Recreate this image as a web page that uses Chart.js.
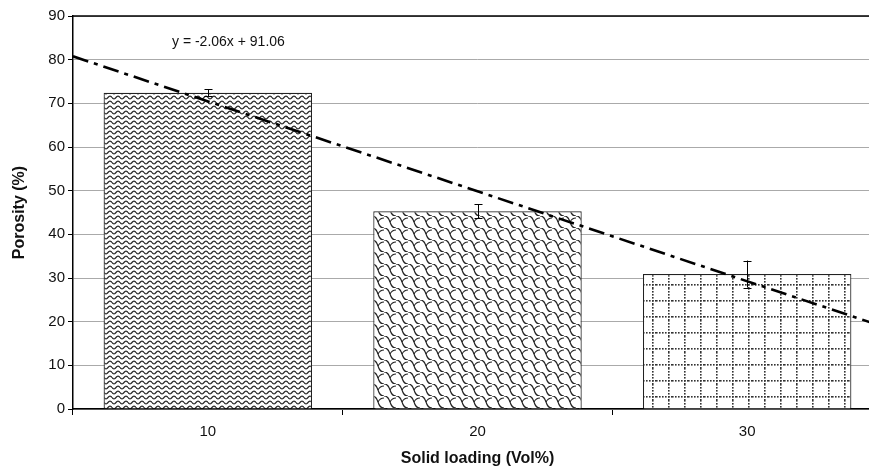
<!DOCTYPE html>
<html lang="en">
<head>
    <meta charset="UTF-8">
    <title>Porosity vs Solid loading</title>
    <script src="https://cdn.jsdelivr.net/npm/chart.js"></script>
    <style>
        html, body {
            margin: 0;
            padding: 0;
            overflow: hidden;
            background: #fff;
        }
        .wrapper {
            width: 882px;
            height: 474px;
        }
    </style>
</head>
<body>
    <div class="wrapper">
        <canvas id="porosityChart"></canvas>
    </div>

    <script>
        // values
        const categories = ['10', '20', '30'];
        const porosity = [72.4, 45.3, 30.9];
        const porosityErr = [0.8, 1.6, 3.1];
        const yTickMax = 90;
        const yTickStep = 10;

        // linear trend line printed on the figure
        const trendSlope = -2.06;
        const trendIntercept = 91.06;
        const trendXRange = [5, 35];
        const trendLabel = 'y = -2.06x + 91.06';

        const FONT = '"Liberation Sans", Arial, sans-serif';

        function makeTile(w, h, draw) {
            const c = document.createElement('canvas');
            c.width = w;
            c.height = h;
            const g = c.getContext('2d');
            g.fillStyle = '#fff';
            g.fillRect(0, 0, w, h);
            draw(g);
            return document.createElement('canvas').getContext('2d').createPattern(c, 'repeat');
        }

        // wavy lines
        const wavePattern = makeTile(8, 5, g => {
            g.strokeStyle = '#222';
            g.lineWidth = 1.2;
            g.beginPath();
            for (let x = 0; x <= 8; x += 0.5) {
                const y = 2.5 + 1.4 * Math.sin(x / 8 * Math.PI * 2);
                if (x === 0) g.moveTo(x, y); else g.lineTo(x, y);
            }
            g.stroke();
        });

        // shingles
        const weavePattern = makeTile(12, 12, g => {
            g.strokeStyle = '#222';
            g.lineWidth = 1.1;
            g.beginPath();
            g.moveTo(0, 0);
            g.bezierCurveTo(8, 0, 4, 12, 12, 12);
            g.stroke();
            g.beginPath();
            g.moveTo(-12, 0);
            g.bezierCurveTo(-4, 0, -8, 12, 0, 12);
            g.stroke();
            g.beginPath();
            g.moveTo(12, 0);
            g.bezierCurveTo(20, 0, 16, 12, 24, 12);
            g.stroke();
            // short hook joining neighbouring curves
            g.beginPath();
            g.moveTo(6, 6);
            g.quadraticCurveTo(8, 2, 12, 2);
            g.stroke();
        });

        // dotted grid
        const dotGridPattern = makeTile(16, 16, g => {
            g.fillStyle = '#333';
            for (let i = 0; i < 16; i += 3) {
                g.fillRect(i, 12, 1.6, 1.6);
                g.fillRect(12, i, 1.6, 1.6);
            }
        });

        const trendData = trendXRange.map(x => ({ x: x, y: trendSlope * x + trendIntercept }));

        const errorBarPlugin = {
            id: 'errorBars',
            afterDatasetDraw(chart, args) {
                if (args.index !== 0) return;
                const ctx = chart.ctx;
                const yScale = chart.scales.y;
                ctx.save();
                ctx.strokeStyle = '#000';
                ctx.lineWidth = 1;
                args.meta.data.forEach((bar, i) => {
                    const top = yScale.getPixelForValue(porosity[i] + porosityErr[i]);
                    const bot = yScale.getPixelForValue(porosity[i] - porosityErr[i]);
                    const x = Math.round(bar.x) + 0.5;
                    ctx.beginPath();
                    ctx.moveTo(x, top);
                    ctx.lineTo(x, bot);
                    ctx.moveTo(x - 4, Math.round(top) + 0.5);
                    ctx.lineTo(x + 4, Math.round(top) + 0.5);
                    ctx.moveTo(x - 4, Math.round(bot) + 0.5);
                    ctx.lineTo(x + 4, Math.round(bot) + 0.5);
                    ctx.stroke();
                });
                ctx.restore();
            }
        };

        const frameAndLabelPlugin = {
            id: 'frameAndLabel',
            afterDraw(chart) {
                const ctx = chart.ctx;
                const a = chart.chartArea;
                ctx.save();
                ctx.strokeStyle = '#000';
                ctx.lineWidth = 1.5;
                ctx.beginPath();
                ctx.moveTo(a.left, a.top);
                ctx.lineTo(a.right, a.top);
                ctx.stroke();
                ctx.fillStyle = '#111';
                ctx.font = '14px ' + FONT;
                ctx.textBaseline = 'middle';
                ctx.fillText(trendLabel, a.left + 99, a.top + 26);
                ctx.restore();
            }
        };

        const ctx = document.getElementById('porosityChart').getContext('2d');
        new Chart(ctx, {
            type: 'bar',
            data: {
                labels: categories,
                datasets: [
                    {
                        label: 'Porosity',
                        data: porosity,
                        backgroundColor: [wavePattern, weavePattern, dotGridPattern],
                        borderColor: '#222',
                        borderWidth: 1.2,
                        grouped: false,
                        categoryPercentage: 1,
                        barPercentage: 0.773,
                        order: 2
                    },
                    {
                        type: 'line',
                        label: 'Trend',
                        data: trendData,
                        xAxisID: 'x2',
                        borderColor: '#000',
                        borderWidth: 2.6,
                        borderDash: [16, 6, 4, 6],
                        pointRadius: 0,
                        fill: false,
                        order: 1
                    }
                ]
            },
            options: {
                responsive: true,
                maintainAspectRatio: false,
                animation: false,
                layout: {
                    padding: { top: 16, right: 0, left: 0, bottom: 0 }
                },
                plugins: {
                    legend: { display: false },
                    tooltip: { enabled: false }
                },
                scales: {
                    x: {
                        type: 'category',
                        offset: true,
                        grid: {
                            offset: true,
                            drawOnChartArea: false,
                            drawTicks: true,
                            tickLength: 6,
                            tickColor: '#000'
                        },
                        border: { color: '#000', width: 1.5 },
                        ticks: {
                            color: '#111',
                            padding: 8,
                            font: { family: FONT, size: 15 }
                        },
                        title: {
                            display: true,
                            text: 'Solid loading (Vol%)',
                            color: '#111',
                            padding: { top: 4, bottom: 6 },
                            font: { family: FONT, size: 16, weight: 'bold' }
                        },
                        afterFit(scale) { scale.height = 65; }
                    },
                    x2: {
                        type: 'linear',
                        display: false,
                        offset: false,
                        min: trendXRange[0],
                        max: trendXRange[1]
                    },
                    y: {
                        min: 0,
                        max: yTickMax,
                        ticks: {
                            stepSize: yTickStep,
                            color: '#111',
                            padding: 3,
                            font: { family: FONT, size: 15 }
                        },
                        grid: {
                            color: '#aaa',
                            lineWidth: 1,
                            tickLength: 5,
                            tickColor: '#000'
                        },
                        border: { color: '#000', width: 1.5 },
                        title: {
                            display: true,
                            text: 'Porosity (%)',
                            color: '#111',
                            padding: { top: 10, bottom: 4 },
                            font: { family: FONT, size: 16, weight: 'bold' }
                        },
                        afterFit(scale) { scale.width = 73; }
                    }
                }
            },
            plugins: [errorBarPlugin, frameAndLabelPlugin]
        });
    </script>
</body>
</html>
